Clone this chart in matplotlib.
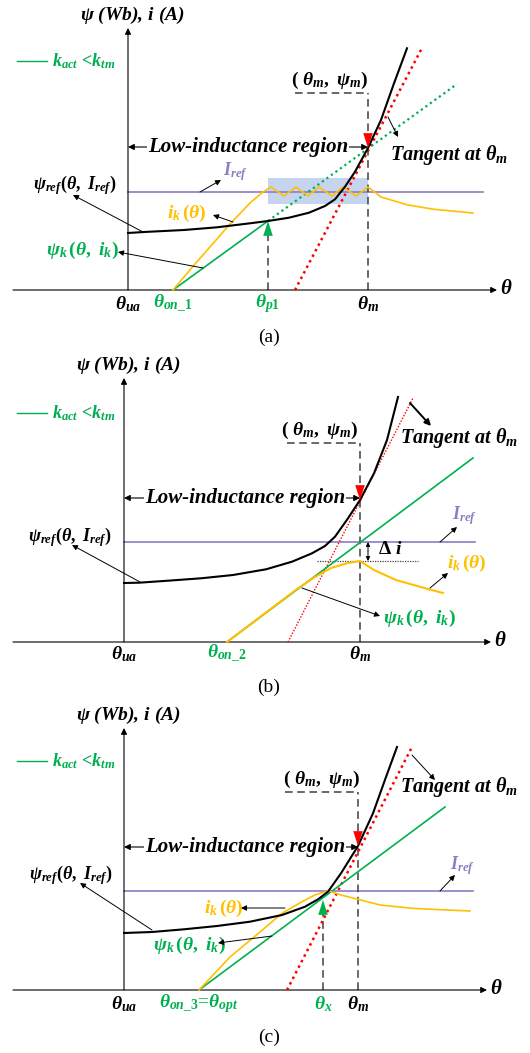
import numpy as np
import matplotlib.pyplot as plt

plt.rcParams['mathtext.fontset'] = 'custom'
plt.rcParams['mathtext.rm'] = 'Liberation Serif:bold'
plt.rcParams['mathtext.it'] = 'Liberation Serif:italic:bold'
plt.rcParams['mathtext.bf'] = 'Liberation Serif:bold'
plt.rcParams['font.family'] = ['Liberation Serif', 'DejaVu Serif']

GREEN = '#00b050'
YELLOW = '#ffc000'
PURPLE = '#8e7cc3'
RED = '#ff0000'

# ---- panel (a): current chopping, k_act < k_tm ----
psi_ref_a_x = [128, 144, 184, 217, 250, 268, 289, 309, 325, 335, 345, 355, 368, 381, 394, 407]
psi_ref_a_y = [57, 58, 60, 62.7, 66.7, 69, 72.3, 77.3, 84, 90.7, 103.3, 118.3, 142, 170, 206.7, 241.7]
ik_a_x = [173, 195, 217, 229, 250, 263, 271, 284, 296, 308, 319, 332, 343, 356, 368,
          381, 408, 434, 473]
ik_a_y = [0, 26, 51, 65, 87, 98, 103, 94, 103, 94, 103, 94, 103, 94, 103,
          93, 85, 80.7, 77]
psi_k_a_x = [173, 268]
psi_k_a_y = [0, 69]
psi_k_ext_a_x = [268, 457]
psi_k_ext_a_y = [69, 206]
tangent_a_x = [295, 422]
tangent_a_y = [0, 242]
iref_a = 98
theta_a = {'ua': 128, 'on': 173, 'p1': 268, 'm': 368}
psi_m_a = 142

# ---- panel (b): late turn-on ----
psi_ref_b_x = [124, 139, 168, 201, 233, 266, 292, 312, 325, 335, 348, 360, 374, 387, 398]
psi_ref_b_y = [59, 59.3, 61.3, 63.7, 67, 72.7, 80.3, 88.7, 96, 105.3, 123.7, 142, 168.7, 202, 245]
ik_b_x = [227, 297, 315, 331, 348, 360, 374, 396, 429, 443]
ik_b_y = [0, 53, 65, 74, 79, 81, 72, 62, 52.7, 49]
psi_k_b_x = [227, 473]
psi_k_b_y = [0, 184]
tangent_b_x = [288, 413]
tangent_b_y = [0, 244]
iref_b = 100
theta_b = {'ua': 124, 'on': 227, 'm': 360}
psi_m_b = 142

# ---- panel (c): optimal turn-on ----
psi_ref_c_x = [124, 152, 184, 217, 250, 282, 305, 318, 328, 341, 358, 373, 386, 397]
psi_ref_c_y = [57, 58, 60.7, 64, 68.3, 75, 83.3, 90.7, 98.3, 116.7, 144, 176.7, 213, 243]
ik_c_x = [199, 230, 260, 282, 302, 315, 328, 341, 358, 380, 412, 432, 470]
ik_c_y = [0, 33, 58, 76.7, 88.3, 95, 99.3, 95, 90.7, 85, 81.7, 80.7, 79]
psi_k_c_x = [199, 445]
psi_k_c_y = [0, 183]
tangent_c_x = [287, 412]
tangent_c_y = [0, 243]
iref_c = 99
theta_c = {'ua': 124, 'on': 199, 'x': 323, 'm': 358}
psi_m_c = 144

FS = 13
TICK_FS = 14
BI = dict(fontweight='bold', fontstyle='italic')
DASH = dict(ls=(0, (5, 3)), color='#404040', lw=1.1)

fig = plt.figure(figsize=(5.30, 10.53), dpi=100)


def make_axes(top, height, x_axis_px):
    ax = fig.add_axes([0, 1 - (top + height) / 1053, 1, height / 1053])
    ax.set_xlim(0, 530)
    ax.set_ylim(x_axis_px - (top + height), x_axis_px - top)
    ax.axis('off')
    return ax


def arrow(ax, tail, head, color='black', lw=0.7, ms=8, style='-|>'):
    ax.annotate('', xy=head, xytext=tail,
                arrowprops=dict(arrowstyle=style, color=color, lw=lw,
                                mutation_scale=ms, shrinkA=0, shrinkB=0))


def head(ax, x, tip, base, color):
    ax.annotate('', xy=(x, tip), xytext=(x, base),
                arrowprops=dict(arrowstyle='-|>,head_length=0.75,head_width=0.24',
                                color=color, lw=0.1, mutation_scale=14,
                                shrinkA=0, shrinkB=0), zorder=6)


def frame(ax, y0, x_end, y_top, ylab_x):
    arrow(ax, (13, 0), (x_end, 0), lw=0.8, ms=9)
    arrow(ax, (y0, 0), (y0, y_top), lw=0.8, ms=9)
    ax.text(x_end + 9, 0, r'$\theta$', fontsize=TICK_FS + 1, ha='center', va='center')
    ax.text(ylab_x, y_top + 13, r'$\psi$ (Wb), $i$ (A)', fontsize=TICK_FS, ha='center',
            va='center', **BI)
    ax.plot([17, 47], [229, 229], color=GREEN, lw=1.0)
    ax.text(52, 229, r'$k_{act}$ <$k_{tm}$', color=GREEN, fontsize=FS,
            ha='left', va='center', fontweight='bold')


def low_region(ax, x0, x1, y, xc):
    arrow(ax, (xc, y), (x0, y), ms=9, lw=0.8)
    arrow(ax, (xc, y), (x1, y), ms=9, lw=0.8)
    ax.text(xc, y, 'Low-inductance region', fontsize=15, ha='center', va='center',
            bbox=dict(facecolor='white', edgecolor='none', pad=0.5), **BI)


def marker_dash(ax, xm, psim, yh, xh0, lab_x):
    ax.plot([xm, xm], [0, yh], **DASH)
    ax.plot([xh0, xm], [yh, yh], **DASH)
    ax.text(lab_x, yh + 13, r'$(\ \theta_m,\ \psi_m)$', fontsize=FS + 1, ha='center',
            va='center')
    head(ax, xm, psim, psim + 15, RED)


def tangent_label(ax, x, y):
    ax.text(x, y, r'Tangent at $\theta_m$', fontsize=14.5, ha='left', va='center', **BI)


def tick_label(ax, x, y, s, color='black'):
    ax.text(x, y, s, fontsize=TICK_FS, ha='center', va='center', color=color)


# ---------------- (a) ----------------
ax = make_axes(0, 350, 290)
frame(ax, theta_a['ua'], 497, 262, 132)
ax.add_patch(plt.Rectangle((theta_a['p1'], 86), theta_a['m'] - theta_a['p1'], 26,
                           facecolor='#b4c8ea', edgecolor='none', alpha=0.75, zorder=1))
ax.plot([theta_a['ua'], 483], [iref_a, iref_a], color=PURPLE, lw=1.2, zorder=2)
ax.plot(tangent_a_x, tangent_a_y, color=RED, lw=1.8, ls=(0, (1, 1.5)), zorder=3)
ax.plot(psi_k_ext_a_x, psi_k_ext_a_y, color=GREEN, lw=1.6, ls=(0, (1, 1.5)), zorder=3)
ax.plot(psi_k_a_x, psi_k_a_y, color=GREEN, lw=1.2, zorder=3)
ax.plot(ik_a_x, ik_a_y, color=YELLOW, lw=1.2, zorder=3)
ax.plot(psi_ref_a_x, psi_ref_a_y, color='black', lw=1.5, zorder=4)
ax.plot([theta_a['p1'], theta_a['p1']], [0, 55], **DASH)
head(ax, theta_a['p1'], 69, 55, GREEN)
marker_dash(ax, theta_a['m'], psi_m_a, 197, 295, 330)
low_region(ax, theta_a['ua'], theta_a['m'], 143, 248)
tangent_label(ax, 390, 135)
arrow(ax, (388, 173), (398, 153))
ax.text(75, 105, r'$\psi_{ref}(\theta,\ I_{ref})$', fontsize=FS, ha='center', va='center')
arrow(ax, (143, 58), (73, 95))
ax.text(223, 118, r'$I_{ref}$', fontsize=FS, color=PURPLE, ha='left', va='center')
arrow(ax, (200, 98), (221, 110))
ax.text(187, 77, r'$i_k\,(\theta)$', fontsize=FS + 1, color=YELLOW, ha='center', va='center')
arrow(ax, (233, 68), (213, 75))
ax.text(82, 40, r'$\psi_k\,(\theta,\ i_k)$', fontsize=FS + 1, color=GREEN, ha='center',
        va='center')
arrow(ax, (203, 22), (118, 38))
tick_label(ax, theta_a['ua'], -14, r'$\theta_{ua}$')
tick_label(ax, theta_a['on'], -14, r'$\theta_{on\_1}$', GREEN)
tick_label(ax, theta_a['p1'], -14, r'$\theta_{p1}$', GREEN)
tick_label(ax, theta_a['m'], -14, r'$\theta_m$')
ax.text(269, -47, '(a)', fontsize=14, ha='center', va='center')

# ---------------- (b) ----------------
ax = make_axes(350, 350, 642)
frame(ax, theta_b['ua'], 491, 264, 128)
ax.plot([theta_b['ua'], 475], [iref_b, iref_b], color=PURPLE, lw=1.2, zorder=2)
ax.plot(tangent_b_x, tangent_b_y, color=RED, lw=1.0, ls=(0, (1, 1.2)), zorder=3)
ax.plot(psi_k_b_x, psi_k_b_y, color=GREEN, lw=1.2, zorder=3)
ax.plot(ik_b_x, ik_b_y, color=YELLOW, lw=1.5, zorder=3)
ax.plot(psi_ref_b_x, psi_ref_b_y, color='black', lw=1.5, zorder=4)
marker_dash(ax, theta_b['m'], psi_m_b, 199, 287, 320)
ax.plot([317, 418], [ik_b_y[5], ik_b_y[5]], color='#404040', lw=0.9, ls=(0, (1, 1)))
arrow(ax, (368, 91), (368, iref_b), ms=6)
arrow(ax, (368, 91), (368, ik_b_y[5]), ms=6)
ax.text(378, 92, r'$\Delta\ i$', fontsize=FS + 1, ha='left', va='center')
low_region(ax, theta_b['ua'], theta_b['m'], 144, 245)
tangent_label(ax, 400, 204)
arrow(ax, (410, 239), (431, 216), lw=1.4, ms=9)
ax.text(70, 105, r'$\psi_{ref}(\theta,\ I_{ref})$', fontsize=FS, ha='center', va='center')
arrow(ax, (140, 60), (72, 97))
ax.text(452, 126, r'$I_{ref}$', fontsize=FS, color=PURPLE, ha='left', va='center')
arrow(ax, (440, 100), (457, 115))
ax.text(447, 79, r'$i_k\,(\theta)$', fontsize=FS + 1, color=YELLOW, ha='left', va='center')
arrow(ax, (430, 54), (448, 69))
ax.text(383, 24, r'$\psi_k\,(\theta,\ i_k)$', fontsize=FS + 1, color=GREEN, ha='left',
        va='center')
arrow(ax, (302, 54), (380, 26))
tick_label(ax, theta_b['ua'], -12, r'$\theta_{ua}$')
tick_label(ax, theta_b['on'], -12, r'$\theta_{on\_2}$', GREEN)
tick_label(ax, theta_b['m'], -12, r'$\theta_m$')
ax.text(269, -45, '(b)', fontsize=14, ha='center', va='center')

# ---------------- (c) ----------------
ax = make_axes(700, 353, 990)
frame(ax, theta_c['ua'], 487, 262, 128)
ax.plot([theta_c['ua'], 473], [iref_c, iref_c], color=PURPLE, lw=1.2, zorder=2)
ax.plot(tangent_c_x, tangent_c_y, color=RED, lw=1.8, ls=(0, (1, 1.5)), zorder=3)
ax.plot(psi_k_c_x, psi_k_c_y, color=GREEN, lw=1.2, zorder=3)
ax.plot(ik_c_x, ik_c_y, color=YELLOW, lw=1.2, zorder=3)
ax.plot(psi_ref_c_x, psi_ref_c_y, color='black', lw=1.5, zorder=4)
ax.plot([theta_c['x'], theta_c['x']], [0, 78], **DASH)
head(ax, theta_c['x'], 90, 77, GREEN)
marker_dash(ax, theta_c['m'], psi_m_c, 198, 285, 322)
low_region(ax, theta_c['ua'], theta_c['m'], 143, 245)
tangent_label(ax, 400, 203)
arrow(ax, (412, 235), (435, 210))
ax.text(71, 115, r'$\psi_{ref}(\theta,\ I_{ref})$', fontsize=FS, ha='center', va='center')
arrow(ax, (152, 60), (80, 107))
ax.text(450, 124, r'$I_{ref}$', fontsize=FS, color=PURPLE, ha='left', va='center')
arrow(ax, (440, 99), (455, 115))
ax.text(204, 82, r'$i_k\,(\theta)$', fontsize=FS + 1, color=YELLOW, ha='left', va='center')
arrow(ax, (285, 82), (241, 82))
ax.text(153, 45, r'$\psi_k\,(\theta,\ i_k)$', fontsize=FS + 1, color=GREEN, ha='left',
        va='center')
arrow(ax, (272, 54), (218, 47))
tick_label(ax, theta_c['ua'], -14, r'$\theta_{ua}$')
tick_label(ax, theta_c['on'], -14, r'$\theta_{on\_3}$=$\theta_{opt}$', GREEN)
tick_label(ax, theta_c['x'], -14, r'$\theta_x$', GREEN)
tick_label(ax, theta_c['m'], -14, r'$\theta_m$')
ax.text(269, -47, '(c)', fontsize=14, ha='center', va='center')

fig.savefig('out.png', dpi=100)
